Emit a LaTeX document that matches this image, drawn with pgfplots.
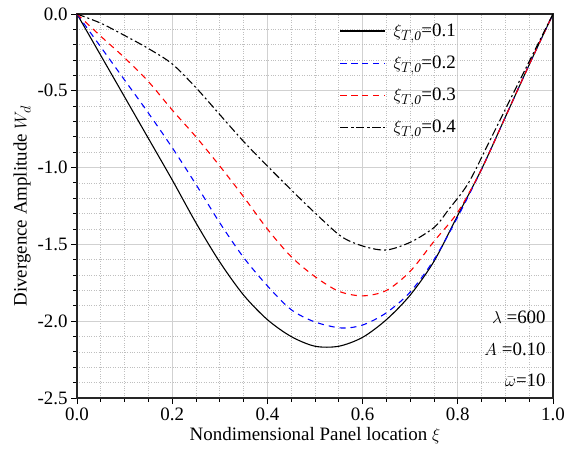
\documentclass[border=0pt]{standalone}
\usepackage{fontspec}
\setmainfont{Liberation Serif}
\usepackage{pgfplots}
\pgfplotsset{compat=1.18}
\newcommand\bigf{\fontsize{19}{22}\selectfont}
\begin{document}
\begin{tikzpicture}
\begin{axis}[
  scale only axis, width=476bp, height=384bp,
  xmin=0, xmax=1, ymin=-2.5, ymax=0,
  xtick={0,0.2,0.4,0.6,0.8,1},
  ytick={-2.5,-2,-1.5,-1,-0.5,0},
  minor x tick num=3, minor y tick num=4,
  tick pos=left, tick align=outside,
  major tick length=6bp, minor tick length=3.5bp,
  grid=both,
  major grid style={black!18, line width=0.7pt},
  minor grid style={black!25, dotted, line width=0.7pt},
  axis line style={line width=1.2pt, black!85},
  every tick/.style={black, line width=1pt},
  /pgf/number format/assume math mode=true,
  x tick label style={/pgf/number format/fixed, /pgf/number format/fixed zerofill, /pgf/number format/precision=1},
  y tick label style={/pgf/number format/fixed, /pgf/number format/fixed zerofill, /pgf/number format/precision=1},
  tick label style={font=\bigf},
  label style={font=\bigf},
  xlabel={Nondimensional Panel location $\xi$},
  ylabel={Divergence Amplitude $W_d$},
  legend style={draw=none, fill=none, at={(0.545,0.985)}, anchor=north west, font=\bigf, row sep=14bp,
    /tikz/every odd column/.append style={column sep=6bp}},
  legend cell align=left,
  legend image code/.code={\draw[mark repeat=2,mark phase=2] plot coordinates {(0bp,0bp) (22.5bp,0bp) (45bp,0bp)};},
]
\addplot[color=black, line width=1.1pt, smooth] coordinates {
(0,0) (0.05,-0.27) (0.10,-0.54) (0.15,-0.81) (0.20,-1.08) (0.25,-1.36) (0.30,-1.615) (0.35,-1.83) (0.40,-1.99) (0.45,-2.10) (0.50,-2.163) (0.55,-2.163) (0.60,-2.105) (0.65,-1.99) (0.70,-1.83) (0.75,-1.61) (0.80,-1.31) (0.85,-1.01) (0.90,-0.67) (0.95,-0.33) (1.0,0)
};
\addlegendentry{$\xi_{T,\mathit{0}}$=0.1}
\addplot[color=blue, line width=1.1pt, dash pattern=on 6bp off 5bp, smooth] coordinates {
(0,0) (0.05,-0.215) (0.10,-0.43) (0.15,-0.645) (0.20,-0.87) (0.25,-1.11) (0.30,-1.36) (0.35,-1.585) (0.40,-1.77) (0.45,-1.925) (0.50,-2.005) (0.555,-2.044) (0.60,-2.025) (0.65,-1.945) (0.70,-1.81) (0.75,-1.60) (0.80,-1.32) (0.85,-1.01) (0.90,-0.67) (0.95,-0.33) (1.0,0)
};
\addlegendentry{$\xi_{T,\mathit{0}}$=0.2}
\addplot[color=red, line width=1.1pt, dash pattern=on 6bp off 5bp, smooth] coordinates {
(0,0) (0.05,-0.145) (0.10,-0.285) (0.15,-0.44) (0.20,-0.625) (0.25,-0.80) (0.30,-0.99) (0.35,-1.19) (0.40,-1.40) (0.45,-1.58) (0.50,-1.71) (0.55,-1.805) (0.60,-1.835) (0.65,-1.80) (0.70,-1.675) (0.75,-1.48) (0.80,-1.29) (0.85,-1.01) (0.90,-0.67) (0.95,-0.33) (1.0,0)
};
\addlegendentry{$\xi_{T,\mathit{0}}$=0.3}
\addplot[color=black, line width=1.1pt, dash pattern=on 8bp off 3bp on 2bp off 3bp, smooth] coordinates {
(0,0) (0.05,-0.06) (0.10,-0.14) (0.15,-0.225) (0.20,-0.325) (0.25,-0.48) (0.30,-0.655) (0.35,-0.83) (0.40,-0.99) (0.45,-1.145) (0.50,-1.295) (0.556,-1.45) (0.605,-1.515) (0.651,-1.536) (0.703,-1.482) (0.752,-1.385) (0.78,-1.276) (0.822,-1.102) (0.868,-0.82) (0.927,-0.451) (1.0,0)
};
\addlegendentry{$\xi_{T,\mathit{0}}$=0.4}
\node[anchor=east, inner sep=0pt, align=right, font=\fontsize{19}{31.7}\selectfont] at (axis cs:0.985,-2.18) {$\lambda$ =600\\$A$ =0.10\\$\bar{\omega}$=10};
\end{axis}
\pgfresetboundingbox
\path ([shift={(-77bp,-66bp)}]current axis.south west) rectangle ([shift={(19bp,14bp)}]current axis.north east);
\end{tikzpicture}
\end{document}
